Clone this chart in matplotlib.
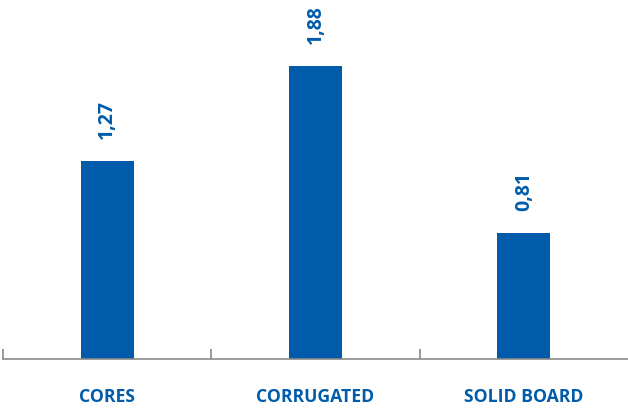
import matplotlib
matplotlib.use("Agg")
import matplotlib.pyplot as plt

categories = ["CORES", "CORRUGATED", "SOLID BOARD"]
values = [1.27, 1.88, 0.81]
value_labels = ["1,27", "1,88", "0,81"]

blue = "#005CAB"
grey = "#8a8a8a"

fig = plt.figure(figsize=(6.28, 4.09), dpi=100)
ppu = 155.5
bottom_px = 358.5
h_units = 2.3
ax = fig.add_axes([3/628, 1 - bottom_px/409, 625/628, h_units*ppu/409])
x = list(range(len(categories)))
ax.bar(x, values, width=0.255, color=blue, zorder=2)
ax.set_xlim(-0.5, 2.5)
ax.set_ylim(0, h_units)
for s in ["top", "right", "left"]:
    ax.spines[s].set_visible(False)
ax.spines["bottom"].set_color(grey)
ax.spines["bottom"].set_linewidth(1.2)
ax.set_yticks([])
ax.set_xticks([-0.5, 0.5, 1.5])
ax.tick_params(axis="x", direction="in", length=7, width=1.2, color=grey, labelbottom=False)
for xi, c in zip(x, categories):
    ax.text(xi, -0.245, c, ha="center", va="center", color=blue, fontsize=12.7,
            fontweight="bold", family="Open Sans", clip_on=False)
for xi, v, lab in zip(x, values, value_labels):
    ax.annotate(lab, (xi, v), xytext=(0, 22), textcoords="offset pixels",
                ha="center", va="bottom", rotation=90, color=blue, fontsize=14,
                fontweight="bold", family="Open Sans", annotation_clip=False)
fig.savefig("out.png", dpi=100)
